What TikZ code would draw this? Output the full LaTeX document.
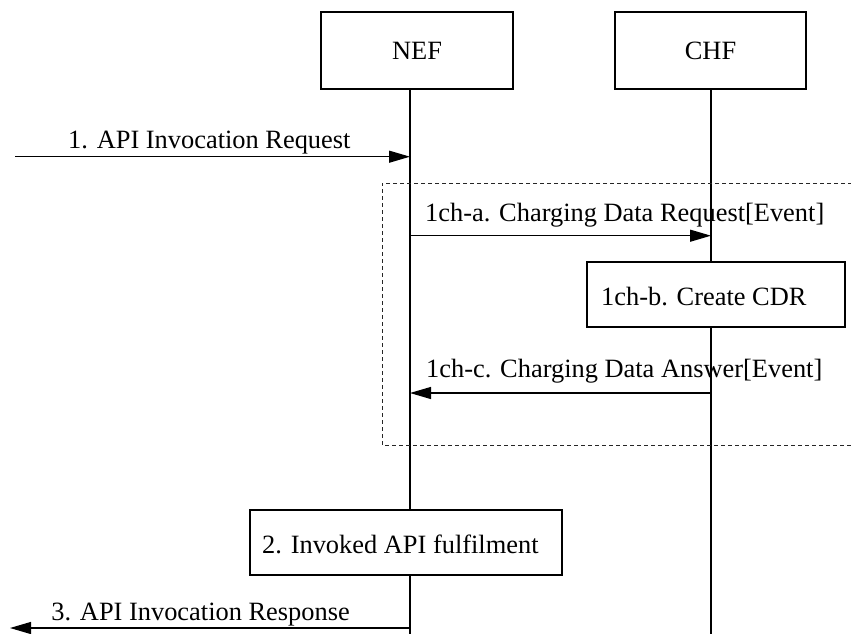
\documentclass[tikz,border=0pt]{standalone}
\usepackage{fontspec}
\setmainfont{Liberation Serif}
\usetikzlibrary{arrows.meta}
\tikzset{
  actor/.style={draw, line width=1.2pt, fill=white, minimum width=192pt, minimum height=77pt, inner sep=0pt},
  procbox/.style={draw, line width=1.2pt, fill=white, inner sep=0pt},
  life/.style={line width=1.8pt},
  msg/.style={line width=1.2pt, -{Triangle[length=21pt,width=12pt]}},
  txt/.style={inner sep=0pt, font=\fontsize{26.4}{30}\selectfont},
  group/.style={line width=1pt, black!85, dash pattern=on 4pt off 3pt}
}
\begin{document}
\begin{tikzpicture}[x=1pt,y=-1pt]
\useasboundingbox (0,0) rectangle (851,634);
% actors
\node[actor, txt, minimum width=192pt, minimum height=77pt] (nef) at (417,50.5) {NEF};
\node[actor, txt, minimum width=191pt, minimum height=77pt] (chf) at (710.5,50.5) {CHF};
% lifelines
\coordinate (nefT) at (410,89);
\coordinate (nefB) at (410,634);
\coordinate (chfT) at (711,89);
\coordinate (chfB) at (711,634);
\draw[life] (nefT) -- (nefB);
\draw[life] (chfT) -- (chfB);
% group frame
\coordinate (g1) at (852,183);
\coordinate (g2) at (382,183);
\coordinate (g3) at (382,445);
\coordinate (g4) at (852,445);
\draw[group] (g1) -- (g2) -- (g3) -- (g4);
% process boxes
\node[procbox, minimum width=258pt, minimum height=65pt] (cdr) at (716,294.5) {};
\node[txt, anchor=base west] (cdrt) at (601,305) {1ch-b. Create CDR};
\node[procbox, minimum width=312pt, minimum height=65pt] (ful) at (406,542.5) {};
\node[txt, anchor=base west] (fult) at (262,553) {2. Invoked API fulfilment};
% message 1
\coordinate (m1s) at (15,156.7);
\draw[msg] (m1s) -- (m1s -| nefT);
\node[txt, anchor=base west] (m1t) at (68,148) {1. API Invocation Request};
% message 1ch-a
\coordinate (mas) at (410,235.7);
\draw[msg] (mas) -- (mas -| chfT);
\node[txt, anchor=base west] (mat) at (425,221.7) {1ch-a. Charging Data Request[Event]};
% message 1ch-c
\coordinate (mcs) at (711,393);
\draw[msg] (mcs) -- (mcs -| nefT);
\node[txt, anchor=base west] (mct) at (426,377) {1ch-c. Charging Data Answer[Event]};
% message 3
\coordinate (m3s) at (410,628);
\coordinate (m3e) at (10,628);
\draw[msg] (m3s) -- (m3e);
\node[txt, anchor=base east] (m3t) at (350,620) {3. API Invocation Response};
\end{tikzpicture}
\end{document}
